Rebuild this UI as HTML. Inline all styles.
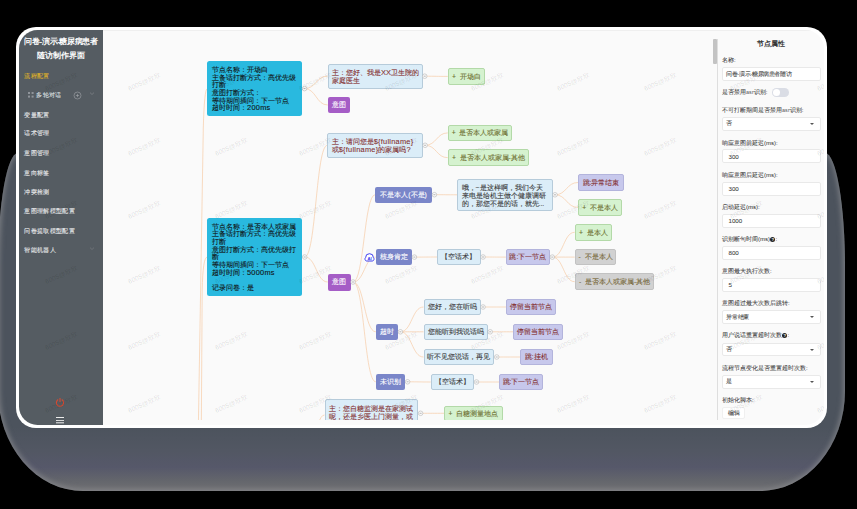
<!DOCTYPE html>
<html><head><meta charset="utf-8">
<style>
*{margin:0;padding:0;box-sizing:border-box}
html,body{width:857px;height:509px;overflow:hidden;background:#000;font-family:"Liberation Sans",sans-serif}
.abs{position:absolute}
#shadow{position:absolute;left:-2px;top:153px;width:847px;height:338px;background:linear-gradient(#4c535d,#4c535d 81%,#525763 88%,#56586a 93%,#64666c 97%,#707073);border-radius:20px 20px 85px 85px/114px 114px 100px 100px;box-shadow:inset 0 0 5px 2px rgba(135,136,140,0.75)}
#card{position:absolute;left:16px;top:27px;width:811px;height:401px;background:#fff;border-radius:20px}
#inner{position:absolute;left:19px;top:30px;width:805px;height:395px;background:#fafafa;border-radius:18.5px;overflow:hidden}
#side{position:absolute;left:0;top:0;width:84px;height:395px;background:#555c62}
#side .t{position:absolute;left:0;width:84px;text-align:center;color:#fff;font-weight:bold;font-size:8px;line-height:10px;white-space:nowrap}
#side .i{position:absolute;left:5.4px;color:#e9eaec;font-size:6px;letter-spacing:0.33px;line-height:8px;white-space:nowrap;-webkit-text-stroke:0.1px currentColor}
#canvas{position:absolute;left:84px;top:0;width:721px;height:395px;border-top:1px solid #efefef}
#panel{position:absolute;left:699px;top:0;width:106px;height:395px;border-left:1px solid #e3e3e3}
</style>
<style>
#clip{position:absolute;left:84px;top:0;width:721px;height:390.4px;overflow:hidden}
#W{position:absolute;left:-19px;top:-30px;width:857px;height:509px}
#L{position:absolute;left:-103px;top:-30px;width:857px;height:509px}
.n{position:absolute;border-radius:2px;font-size:6.8px;-webkit-text-stroke:0.1px currentColor;line-height:7.6px;white-space:nowrap;display:flex;align-items:center;justify-content:center;font-family:"Liberation Sans",sans-serif}
.cy{background:#29b9df;color:#111;display:block;padding:4.7px 0 0 4.8px;border-radius:2.5px;line-height:7.72px}
.lb{background:#dbedf8;border:0.8px solid #b6cbda;color:#3a3a3a}
.mr{color:#843030}
.gr{background:#d5f2cf;border:0.8px solid #b3d9a8;color:#6c6e2e}
.gy{background:#d1d1d1;border:0.8px solid #c2c2c2;color:#776838}
.lp{background:#c7c8ec;border:0.8px solid #b3b4dc;color:#843030}
.bp{background:#7a86c9;color:#fff}
.pu{background:#a55dc6;color:#fff}
.la{font-size:7.4px;letter-spacing:0.25px}
.ml{justify-content:flex-start;padding-left:3.4px;padding-top:2.4px;line-height:8px}
.wm{position:absolute;font-size:6.6px;line-height:8px;color:rgba(0,0,0,0.135);transform:rotate(-24deg);white-space:nowrap}
.q{display:inline-block;width:5.2px;height:5.2px;border-radius:50%;background:#222;color:#fff;font-size:4.3px;line-height:5.2px;text-align:center;font-weight:bold;vertical-align:0px;margin-left:0.3px;-webkit-text-stroke:0}
.as{font-size:5.4px;color:#666;letter-spacing:0.1px}
.pl{position:absolute;left:722px;font-size:6px;line-height:8px;color:#383838;-webkit-text-stroke:0.05px currentColor;white-space:nowrap}
.pi{position:absolute;left:721.7px;width:98.9px;background:#fff;border:0.7px solid #e9e9e9;border-radius:2px;font-size:6px;letter-spacing:-0.38px;color:#444;padding-left:3.6px;display:flex;align-items:center;-webkit-text-stroke:0.08px currentColor}
</style>
</head><body>
<div id="shadow"></div>
<div id="card"></div>
<div id="inner">
  <div id="side">
    <div class="t" style="top:7px;letter-spacing:-0.35px">问卷-演示-糖尿病患者</div>
    <div class="t" style="top:20.8px">随访制作界面</div>

    <div class="i" style="top:42px;color:#dfb02a">流程配置</div>
    <div class="abs" style="left:8.9px;top:62.2px;width:2.3px;height:2.3px;background:#8f949a;box-shadow:3.6px 0 #8f949a,0 3.6px #8f949a,3.6px 3.6px #8f949a"></div>
    <div class="i" style="top:61.4px;left:17.4px;color:#dfe0e2">多轮对话</div>
    <svg class="abs" style="left:53.6px;top:61px" width="9" height="9" viewBox="0 0 9 9"><circle cx="4.5" cy="4.5" r="3.5" fill="none" stroke="#a2a6ab" stroke-width="0.6"/><path d="M2.9 4.5H6.1M4.5 2.9V6.1" stroke="#a2a6ab" stroke-width="0.6"/></svg>
    <svg class="abs" style="left:70px;top:61px" width="6" height="5" viewBox="0 0 6 5"><path d="M1 1.6L3 3.5L5 1.6" fill="none" stroke="#8a8e94" stroke-width="0.6"/></svg>
    <div class="i" style="top:80.5px">变量配置</div>
    <div class="i" style="top:99.3px">话术管理</div>
    <div class="i" style="top:119px">意图管理</div>
    <div class="i" style="top:138.5px">意向标签</div>
    <div class="i" style="top:157.7px">冲突检测</div>
    <div class="i" style="top:177px">意图理解模型配置</div>
    <div class="i" style="top:196.5px">问卷提取模型配置</div>
    <div class="i" style="top:215.8px">智能机器人</div>
    <svg class="abs" style="left:70px;top:216px" width="6" height="5" viewBox="0 0 6 5"><path d="M1 1.6L3 3.5L5 1.6" fill="none" stroke="#7d8187" stroke-width="0.6"/></svg>
    <svg class="abs" style="left:36px;top:367.2px" width="10" height="10" viewBox="0 0 10 10"><path d="M3.2 2.6 A3.6 3.6 0 1 0 6.8 2.6" fill="none" stroke="#d64a32" stroke-width="1.1"/><path d="M5 1 V5" stroke="#d64a32" stroke-width="1.1"/></svg>
    <div class="abs" style="left:37.4px;top:387px;width:7.6px;height:1px;background:#ececec;box-shadow:0 5.3px #ececec"></div><div class="abs" style="left:37.4px;top:389.6px;width:1.2px;height:1.1px;background:#e0e0e0"></div><div class="abs" style="left:39.4px;top:389.6px;width:5.6px;height:1.1px;background:#d8d8d8"></div>
  </div>
  <div id="canvas"></div>
<div id="clip"><div id="L"><svg class="abs" style="left:0;top:0" width="857" height="509"><g fill="none" stroke="#f6cca6" stroke-width="0.7"><path d="M198.3 430L203.3 128Q204.3 89 207.3 88.6"/><path d="M201.3 430L202.2 290Q202.8 257.5 207.2 257"/><path d="M304.5 88.6C316.0 88.6 316.0 76.2 327.5 76.2"/><path d="M304.5 88.6C316.1 88.6 316.1 105.0 327.8 105.0"/><path d="M424.7 76.2C436.2 76.2 436.2 76.4 447.8 76.4"/><path d="M304.7 257.0C316.0 257.0 316.0 145.3 327.3 145.3"/><path d="M304.7 257.0C316.2 257.0 316.2 282.0 327.8 282.0"/><path d="M425.1 145.3C436.5 145.3 436.5 132.9 447.8 132.9"/><path d="M425.1 145.3C436.5 145.3 436.5 157.7 447.8 157.7"/><path d="M353.0 282.0C364.1 282.0 364.1 194.7 375.2 194.7"/><path d="M353.0 282.0C364.4 282.0 364.4 257.1 375.8 257.1"/><path d="M353.0 282.0C364.4 282.0 364.4 331.8 375.8 331.8"/><path d="M353.0 282.0C364.4 282.0 364.4 381.8 375.8 381.8"/><path d="M434.4 194.7C445.8 194.7 445.8 194.8 457.2 194.8"/><path d="M555.0 194.8C566.5 194.8 566.5 182.5 578.0 182.5"/><path d="M555.0 194.8C566.5 194.8 566.5 207.4 578.0 207.4"/><path d="M414.4 257.1C425.9 257.1 425.9 257.0 437.3 257.0"/><path d="M483.0 257.0C494.4 257.0 494.4 257.1 505.9 257.1"/><path d="M552.3 257.1C563.5 257.1 563.5 232.3 574.7 232.3"/><path d="M552.3 257.1C563.5 257.1 563.5 257.1 574.7 257.1"/><path d="M552.3 257.1C563.5 257.1 563.5 281.7 574.7 281.7"/><path d="M400.4 331.8C411.9 331.8 411.9 307.0 423.5 307.0"/><path d="M400.4 331.8C411.9 331.8 411.9 331.8 423.5 331.8"/><path d="M400.4 331.8C411.9 331.8 411.9 357.0 423.5 357.0"/><path d="M483.0 307.0C494.4 307.0 494.4 307.0 505.9 307.0"/><path d="M490.2 331.8C501.6 331.8 501.6 331.8 513.0 331.8"/><path d="M496.7 357.0C508.4 357.0 508.4 357.0 520.0 357.0"/><path d="M407.6 381.8C419.1 381.8 419.1 382.0 430.7 382.0"/><path d="M476.5 382.0C487.9 382.0 487.9 382.0 499.3 382.0"/><path d="M420.6 413.3C432.5 413.3 432.5 413.3 444.4 413.3"/><path d="M304.0 470.0C314.2 470.0 314.2 415.0 324.5 415.0"/></g></svg><div class="n cy" style="left:207.3px;top:61.1px;width:95.0px;height:55.1px;"><div>节点名称：开场白<br>主备话打断方式：高优先级<br>打断<br>意图打断方式：<br>等待期间插问：下一节点<br>超时时间：<span class="la">200ms</span></div></div><div class="n cy" style="left:207.2px;top:217.9px;width:95.3px;height:78.5px;"><div>节点名称：是否本人或家属<br>主备话打断方式：高优先级<br>打断<br>意图打断方式：高优先级打<br>断<br>等待期间插问：下一节点<br>超时时间：<span class="la">5000ms</span><br>&nbsp;<br>记录问卷：是</div></div><div class="n lb ml mr" style="left:327.5px;top:64.0px;width:95.0px;height:24.5px;"><div>主：您好、我是<span class="la">XX</span>卫生院的<br>家庭医生</div></div><div class="n pu" style="left:327.8px;top:96.7px;width:22.5px;height:16.6px;"><div>意图</div></div><div class="n gr" style="left:447.8px;top:68.0px;width:37.3px;height:16.8px;"><div>+&nbsp; 开场白</div></div><div class="n lb ml mr" style="left:327.3px;top:132.7px;width:95.6px;height:25.2px;"><div>主：请问您是<span class="la">${fullname}</span><br>或<span class="la">${fullname}</span>的家属吗<span class="la">?</span></div></div><div class="n gr" style="left:447.8px;top:124.6px;width:64.6px;height:16.6px;"><div>+&nbsp; 是否本人或家属</div></div><div class="n gr" style="left:447.8px;top:149.4px;width:81.2px;height:16.7px;"><div>+&nbsp; 是否本人或家属-其他</div></div><div class="n pu" style="left:327.8px;top:273.5px;width:22.9px;height:17.0px;"><div>意图</div></div><div class="n bp" style="left:375.2px;top:186.7px;width:56.8px;height:16.1px;"><div>不是本人(不是)</div></div><div class="n lb ml" style="left:457.2px;top:178.6px;width:95.5px;height:32.4px;"><div>哦，~是这样啊，我们今天<br>来电是给机主做个健康调研<br>的，那您不是的话，就先...</div></div><div class="n lp" style="left:578.0px;top:174.3px;width:45.9px;height:16.5px;"><div>跳:异常结束</div></div><div class="n gr" style="left:578.0px;top:199.3px;width:44.0px;height:16.3px;"><div>+&nbsp; 不是本人</div></div><div class="n bp" style="left:375.8px;top:249.0px;width:36.2px;height:16.3px;"><div>核身肯定</div></div><div class="n lb" style="left:437.3px;top:248.6px;width:43.4px;height:16.7px;"><div>【空话术】</div></div><div class="n lp" style="left:505.9px;top:249.0px;width:44.1px;height:16.3px;"><div>跳:下一节点</div></div><div class="n gr" style="left:574.7px;top:224.1px;width:37.3px;height:16.5px;"><div>+&nbsp; 是本人</div></div><div class="n gy" style="left:574.7px;top:248.9px;width:41.8px;height:16.5px;"><div>-&nbsp; 不是本人</div></div><div class="n gy" style="left:574.7px;top:273.3px;width:79.7px;height:16.8px;"><div>-&nbsp; 是否本人或家属-其他</div></div><div class="n bp" style="left:375.8px;top:323.7px;width:22.2px;height:16.3px;"><div>超时</div></div><div class="n lb" style="left:423.5px;top:298.8px;width:57.2px;height:16.4px;"><div>您好，您在听吗</div></div><div class="n lp" style="left:505.9px;top:298.8px;width:50.6px;height:16.4px;"><div>停留当前节点</div></div><div class="n lb" style="left:423.5px;top:323.7px;width:64.4px;height:16.3px;"><div>您能听到我说话吗</div></div><div class="n lp" style="left:513.0px;top:323.7px;width:50.0px;height:16.3px;"><div>停留当前节点</div></div><div class="n lb" style="left:423.5px;top:348.8px;width:70.9px;height:16.4px;"><div>听不见您说话，再见</div></div><div class="n lp" style="left:520.0px;top:348.8px;width:32.6px;height:16.4px;"><div>跳:挂机</div></div><div class="n bp" style="left:375.8px;top:374.0px;width:29.4px;height:15.7px;"><div>未识别</div></div><div class="n lb" style="left:430.7px;top:374.0px;width:43.5px;height:16.0px;"><div>【空话术】</div></div><div class="n lp" style="left:499.3px;top:374.0px;width:43.5px;height:16.0px;"><div>跳:下一节点</div></div><div class="n lb ml mr" style="left:324.5px;top:398.8px;width:93.8px;height:33.2px;"><div>主：您自糖监测是在家测试<br>呢，还是乡医上门测量，或<br>者有可能到村卫生室测</div></div><div class="n gr" style="left:444.4px;top:406.0px;width:58.2px;height:14.7px;"><div>+&nbsp; 自糖测量地点</div></div><svg class="abs" style="left:0;top:0" width="857" height="509"><g fill="#fafafa" stroke="#b0b0b0" stroke-width="0.55"><circle cx="304.5" cy="88.6" r="2.3"/><path d="M303.5 88.6H305.5" stroke-width="0.5" stroke="#777"/><circle cx="424.7" cy="76.2" r="2.3"/><path d="M423.7 76.2H425.7" stroke-width="0.5" stroke="#777"/><circle cx="304.7" cy="257" r="2.3"/><path d="M303.7 257H305.7" stroke-width="0.5" stroke="#777"/><circle cx="425.1" cy="145.3" r="2.3"/><path d="M424.1 145.3H426.1" stroke-width="0.5" stroke="#777"/><circle cx="353" cy="282" r="2.3"/><path d="M352 282H354" stroke-width="0.5" stroke="#777"/><circle cx="434.4" cy="194.7" r="2.3"/><path d="M433.4 194.7H435.4" stroke-width="0.5" stroke="#777"/><circle cx="555" cy="194.8" r="2.3"/><path d="M554 194.8H556" stroke-width="0.5" stroke="#777"/><circle cx="414.4" cy="257.1" r="2.3"/><path d="M413.4 257.1H415.4" stroke-width="0.5" stroke="#777"/><circle cx="483" cy="257" r="2.3"/><path d="M482 257H484" stroke-width="0.5" stroke="#777"/><circle cx="552.3" cy="257.1" r="2.3"/><path d="M551.3 257.1H553.3" stroke-width="0.5" stroke="#777"/><circle cx="400.4" cy="331.8" r="2.3"/><path d="M399.4 331.8H401.4" stroke-width="0.5" stroke="#777"/><circle cx="483" cy="307" r="2.3"/><path d="M482 307H484" stroke-width="0.5" stroke="#777"/><circle cx="490.2" cy="331.8" r="2.3"/><path d="M489.2 331.8H491.2" stroke-width="0.5" stroke="#777"/><circle cx="496.7" cy="357" r="2.3"/><path d="M495.7 357H497.7" stroke-width="0.5" stroke="#777"/><circle cx="407.6" cy="381.8" r="2.3"/><path d="M406.6 381.8H408.6" stroke-width="0.5" stroke="#777"/><circle cx="476.5" cy="382" r="2.3"/><path d="M475.5 382H477.5" stroke-width="0.5" stroke="#777"/><circle cx="420.6" cy="413.3" r="2.3"/><path d="M419.6 413.3H421.6" stroke-width="0.5" stroke="#777"/></g></svg><svg class="abs" style="left:364px;top:252px" width="11" height="11" viewBox="0 0 11 11"><path d="M2.6 9 A2 2 0 0 1 1.6 5.6 A3.9 3.9 0 0 1 9.4 5.6 A2 2 0 0 1 8.4 9 Z" fill="#fff" stroke="#3535ee" stroke-width="0.95"/><text x="5.5" y="8.3" font-size="4.2" font-weight="bold" text-anchor="middle" fill="#3535ee" font-family="Liberation Sans" letter-spacing="-0.2">AI</text></svg><div class="abs" style="left:713.2px;top:39.4px;width:3.6px;height:25px;background:#c3c3c3;border-radius:1px"></div><div class="abs" style="left:717.2px;top:38.5px;width:0.8px;height:395px;background:#dedede"></div><div class="abs" style="left:739.7px;top:40px;width:63px;text-align:center;font-size:6.8px;line-height:8px;font-weight:bold;color:#333">节点属性</div><div class="pl" style="top:56.0px">名称:</div><div class="pi" style="top:67.3px;height:13.5px;">问卷-演示-糖尿病患者随访</div><div class="pl" style="top:88.4px">是否禁用<span class="as">asr</span>识别:</div><div class="abs" style="left:772.2px;top:88.1px;width:16.8px;height:8.6px;border-radius:4.3px;background:#dadde5"></div><div class="abs" style="left:772.9px;top:88.8px;width:7.2px;height:7.2px;border-radius:50%;background:#fff"></div><div class="pl" style="top:106.2px">不可打断期间是否禁用<span class="as">asr</span>识别:</div><div class="pi" style="top:117.1px;height:13.5px;">否<div class="abs" style="right:5.4px;top:50%;margin-top:-0.6px;border-left:2.1px solid transparent;border-right:2.1px solid transparent;border-top:2.3px solid #555"></div></div><div class="pl" style="top:138.6px">响应意图前延迟(ms):</div><div class="pi" style="top:149.2px;height:14.2px;padding-left:5.8px;letter-spacing:0;font-size:6.2px;">300</div><div class="pl" style="top:170.9px">响应意图后延迟(ms):</div><div class="pi" style="top:181.5px;height:14.2px;padding-left:5.8px;letter-spacing:0;font-size:6.2px;">300</div><div class="pl" style="top:202.9px">启动延迟(ms):</div><div class="pi" style="top:213.7px;height:14.0px;padding-left:5.8px;letter-spacing:0;font-size:6.2px;">1000</div><div class="pl" style="top:235.3px">识别断句时间(ms)<span class="q">?</span>:</div><div class="pi" style="top:245.9px;height:13.9px;padding-left:5.8px;letter-spacing:0;font-size:6.2px;">800</div><div class="pl" style="top:267.3px">意图最大执行次数:</div><div class="pi" style="top:278.2px;height:13.4px;padding-left:5.8px;letter-spacing:0;font-size:6.2px;">5</div><div class="pl" style="top:299.0px">意图超过最大次数后跳转:</div><div class="pi" style="top:310.1px;height:13.9px;">异常结束<div class="abs" style="right:5.4px;top:50%;margin-top:-0.6px;border-left:2.1px solid transparent;border-right:2.1px solid transparent;border-top:2.3px solid #555"></div></div><div class="pl" style="top:331.1px">用户说话重置超时次数<span class="q">?</span>:</div><div class="pi" style="top:342.5px;height:13.9px;">否<div class="abs" style="right:5.4px;top:50%;margin-top:-0.6px;border-left:2.1px solid transparent;border-right:2.1px solid transparent;border-top:2.3px solid #555"></div></div><div class="pl" style="top:363.6px">流程节点变化是否重置超时次数:</div><div class="pi" style="top:374.9px;height:14.0px;">是<div class="abs" style="right:5.4px;top:50%;margin-top:-0.6px;border-left:2.1px solid transparent;border-right:2.1px solid transparent;border-top:2.3px solid #555"></div></div><div class="pl" style="top:396.0px">初始化脚本:</div><div class="pi" style="top:406.8px;height:12.6px;width:23.7px;justify-content:center;padding:0;border-color:#f0f0f0">编辑</div></div></div><div id="W"><div class="wm" style="left:44px;top:77.5px">6005@欣欣</div><div class="wm" style="left:127px;top:77.5px">6005@欣欣</div><div class="wm" style="left:214px;top:77.5px">6005@欣欣</div><div class="wm" style="left:298px;top:77.5px">6005@欣欣</div><div class="wm" style="left:384px;top:77.5px">6005@欣欣</div><div class="wm" style="left:470px;top:77.5px">6005@欣欣</div><div class="wm" style="left:556px;top:77.5px">6005@欣欣</div><div class="wm" style="left:643px;top:77.5px">6005@欣欣</div><div class="wm" style="left:729px;top:77.5px">6005@欣欣</div><div class="wm" style="left:816px;top:77.5px">6005@欣欣</div><div class="wm" style="left:44px;top:142.5px">6005@欣欣</div><div class="wm" style="left:127px;top:142.5px">6005@欣欣</div><div class="wm" style="left:214px;top:142.5px">6005@欣欣</div><div class="wm" style="left:298px;top:142.5px">6005@欣欣</div><div class="wm" style="left:384px;top:142.5px">6005@欣欣</div><div class="wm" style="left:470px;top:142.5px">6005@欣欣</div><div class="wm" style="left:556px;top:142.5px">6005@欣欣</div><div class="wm" style="left:643px;top:142.5px">6005@欣欣</div><div class="wm" style="left:729px;top:142.5px">6005@欣欣</div><div class="wm" style="left:816px;top:142.5px">6005@欣欣</div><div class="wm" style="left:44px;top:205.5px">6005@欣欣</div><div class="wm" style="left:127px;top:205.5px">6005@欣欣</div><div class="wm" style="left:214px;top:205.5px">6005@欣欣</div><div class="wm" style="left:298px;top:205.5px">6005@欣欣</div><div class="wm" style="left:384px;top:205.5px">6005@欣欣</div><div class="wm" style="left:470px;top:205.5px">6005@欣欣</div><div class="wm" style="left:556px;top:205.5px">6005@欣欣</div><div class="wm" style="left:643px;top:205.5px">6005@欣欣</div><div class="wm" style="left:729px;top:205.5px">6005@欣欣</div><div class="wm" style="left:816px;top:205.5px">6005@欣欣</div><div class="wm" style="left:44px;top:270.5px">6005@欣欣</div><div class="wm" style="left:127px;top:270.5px">6005@欣欣</div><div class="wm" style="left:214px;top:270.5px">6005@欣欣</div><div class="wm" style="left:298px;top:270.5px">6005@欣欣</div><div class="wm" style="left:384px;top:270.5px">6005@欣欣</div><div class="wm" style="left:470px;top:270.5px">6005@欣欣</div><div class="wm" style="left:556px;top:270.5px">6005@欣欣</div><div class="wm" style="left:643px;top:270.5px">6005@欣欣</div><div class="wm" style="left:729px;top:270.5px">6005@欣欣</div><div class="wm" style="left:816px;top:270.5px">6005@欣欣</div><div class="wm" style="left:44px;top:336.5px">6005@欣欣</div><div class="wm" style="left:127px;top:336.5px">6005@欣欣</div><div class="wm" style="left:214px;top:336.5px">6005@欣欣</div><div class="wm" style="left:298px;top:336.5px">6005@欣欣</div><div class="wm" style="left:384px;top:336.5px">6005@欣欣</div><div class="wm" style="left:470px;top:336.5px">6005@欣欣</div><div class="wm" style="left:556px;top:336.5px">6005@欣欣</div><div class="wm" style="left:643px;top:336.5px">6005@欣欣</div><div class="wm" style="left:729px;top:336.5px">6005@欣欣</div><div class="wm" style="left:816px;top:336.5px">6005@欣欣</div><div class="wm" style="left:44px;top:399.5px">6005@欣欣</div><div class="wm" style="left:127px;top:399.5px">6005@欣欣</div><div class="wm" style="left:214px;top:399.5px">6005@欣欣</div><div class="wm" style="left:298px;top:399.5px">6005@欣欣</div><div class="wm" style="left:384px;top:399.5px">6005@欣欣</div><div class="wm" style="left:470px;top:399.5px">6005@欣欣</div><div class="wm" style="left:556px;top:399.5px">6005@欣欣</div><div class="wm" style="left:643px;top:399.5px">6005@欣欣</div><div class="wm" style="left:729px;top:399.5px">6005@欣欣</div><div class="wm" style="left:816px;top:399.5px">6005@欣欣</div></div>
</div>
</body></html>
